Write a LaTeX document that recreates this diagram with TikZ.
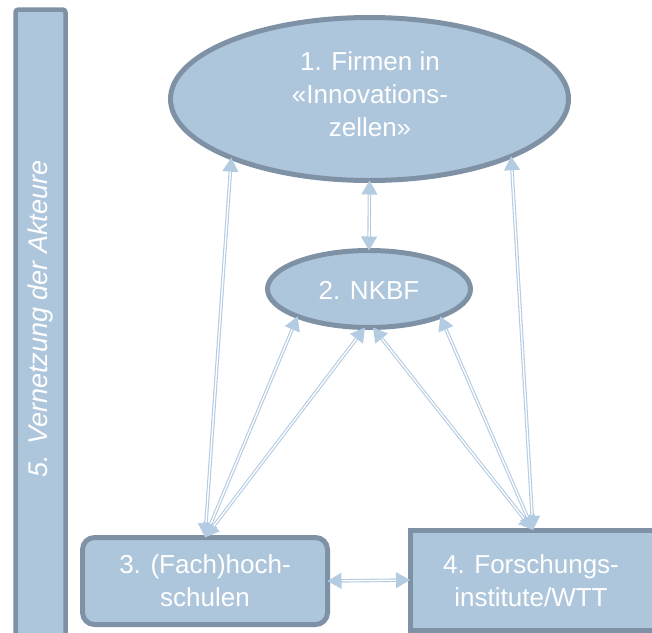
\documentclass[tikz,border=0pt]{standalone}
\usepackage{fontspec}
\setmainfont{Liberation Sans}
\usetikzlibrary{shapes.geometric,arrows.meta}

\definecolor{boxfill}{HTML}{AEC6DC}
\definecolor{boxline}{HTML}{7F92A5}
\definecolor{linkc}{HTML}{B4CCE2}

\begin{document}
\begin{tikzpicture}[x=1pt,y=-1pt,
  shapebox/.style={fill=boxfill,draw=boxline,line width=5pt,outer sep=0pt,inner sep=0pt},
  oval/.style={shapebox,ellipse},
  lbl/.style={text=white,font=\fontsize{26}{33}\selectfont,align=center,inner sep=0pt},
  conn/.style={draw=linkc,line width=1.1pt,double=white,double distance=1.3pt,
    {Triangle[width=16pt,length=14pt]}-{Triangle[width=16pt,length=14pt]}}
]
\clip (0,0) rectangle (652,632);

% side bar: networking of all actors
\node[shapebox,line width=4.5pt,rounded corners=3pt,minimum width=50pt,minimum height=640pt,
  anchor=north west] (bar) at (15.5,9.5) {};
\node[lbl,rotate=90,font=\fontsize{27}{33}\selectfont\itshape] (bartxt) at (41,319)
  {5. Vernetzung der Akteure};

% companies
\node[oval,minimum width=398pt,minimum height=163pt] (e1) at (369.5,99) {};
\node[lbl] (t1) at (370,94) {1. Firmen in\\«Innovations-\\zellen»};

% NKBF
\node[oval,minimum width=203pt,minimum height=77pt] (e2) at (369,289) {};
\node[lbl] (t2) at (369,290) {2. NKBF};

% universities
\node[shapebox,lbl,line width=5pt,rounded corners=12pt,minimum width=245pt,minimum height=87pt]
  (b3) at (205,581) {3. (Fach)hoch-\\schulen};

% research institutes (runs past the right edge)
\node[shapebox,line width=5pt,minimum width=250pt,minimum height=100pt]
  (b4) at (535,580) {};
\node[lbl] (t4) at (531,581) {4. Forschungs-\\institute/WTT};

% links
\draw[conn] (e1.south) -- (e2.north);
\draw[conn] (e1.203) -- (b3.north);
\draw[conn] (e1.338) -- ([xshift=-2pt]b4.north);
\draw[conn] (e2.201) -- (b3.north);
\draw[conn] ([xshift=-4pt]e2.south) -- (b3.north);
\draw[conn] ([xshift=4pt]e2.south) -- ([xshift=-2pt]b4.north);
\draw[conn] (e2.339) -- ([xshift=-2pt]b4.north);
\draw[conn] (b3.east) -- (b4.west);
\end{tikzpicture}
\end{document}
